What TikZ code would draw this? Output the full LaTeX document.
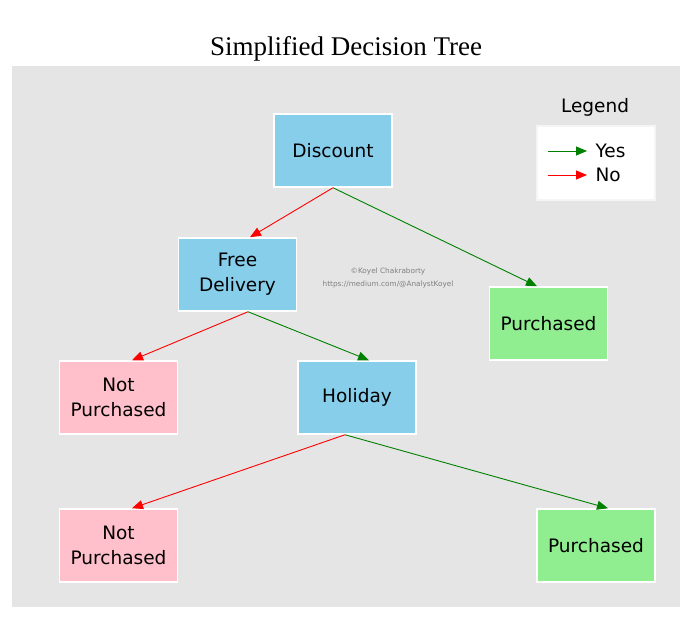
\documentclass[tikz,border=0pt]{standalone}
\usepackage{fontspec}
\setmainfont{Liberation Serif}
\newfontfamily\boxfont{DejaVu Sans}
\usetikzlibrary{arrows.meta}
\definecolor{panelgray}{HTML}{E5E5E5}
\definecolor{skyblue}{HTML}{87CEEB}
\definecolor{pinkbox}{HTML}{FFC0CB}
\definecolor{lightgreen}{HTML}{90EE90}
\definecolor{yesgreen}{HTML}{008000}
\definecolor{nored}{HTML}{FF0000}
\begin{document}
\begin{tikzpicture}[
    x=1pt, y=-1pt,
    decision/.style={rectangle, draw=white, line width=1.5pt, minimum width=118pt, minimum height=73pt, align=center, font=\boxfont\fontsize{18.5}{25}\selectfont, fill=skyblue},
    bought/.style={decision, fill=lightgreen},
    notbought/.style={decision, fill=pinkbox},
    yes/.style={draw=yesgreen, line width=0.9pt, -{Triangle[length=11pt,width=9pt]}},
    no/.style={draw=nored, line width=0.9pt, -{Triangle[length=11pt,width=9pt]}}
]
\useasboundingbox (0,0) rectangle (687,619);
\fill[panelgray] (12,66) rectangle (680,607);
\node[font=\fontsize{27}{30}\selectfont] (title) at (346,49) {Simplified Decision Tree};

% Decisions
\node[decision] (disc) at (333,150.5) {Discount};
\node[decision] (free) at (237.5,274.5) {Free\\Delivery};
\node[decision] (hol) at (357,397.5) {Holiday};

% Outcomes
\node[bought] (buy1) at (548.5,323.5) {Purchased};
\node[notbought] (nobuy1) at (118.5,397.5) {Not\\Purchased};
\node[notbought] (nobuy2) at (118.5,545.5) {Not\\Purchased};
\node[bought] (buy2) at (596,545.5) {Purchased};

% Watermark
\node[font=\boxfont\fontsize{7.3}{13}\selectfont, text=gray, align=center] (mark) at (388,277.5) {©Koyel Chakraborty\\https://medium.com/@AnalystKoyel};

% Branches
\draw[no] (disc.south) -- ([xshift=12.5pt]free.north);
\draw[yes] (disc.south) -- ([xshift=-11.5pt]buy1.north);
\draw[no] ([xshift=10.5pt]free.south) -- ([xshift=13.5pt]nobuy1.north);
\draw[yes] ([xshift=10.5pt]free.south) -- ([xshift=12pt]hol.north);
\draw[no] ([xshift=-12pt]hol.south) -- ([xshift=13.5pt]nobuy2.north);
\draw[yes] ([xshift=-12pt]hol.south) -- ([xshift=12pt]buy2.north);

% Legend
\node[font=\boxfont\fontsize{18.5}{20}\selectfont] (legtitle) at (595,107) {Legend};
\node[rectangle, draw=white!92!gray, line width=1.5pt, fill=white, minimum width=118pt, minimum height=74pt] (legend) at (596,163) {};
\coordinate (yesa) at (548,151);
\coordinate (yesb) at (587,151);
\coordinate (noa) at (548,175);
\coordinate (nob) at (587,175);
\draw[yes] (yesa) -- (yesb);
\draw[no] (noa) -- (nob);
\node[anchor=west, font=\boxfont\fontsize{18.5}{20}\selectfont] (yeslbl) at (592,151) {Yes};
\node[anchor=west, font=\boxfont\fontsize{18.5}{20}\selectfont] (nolbl) at (592,175) {No};
\end{tikzpicture}
\end{document}
